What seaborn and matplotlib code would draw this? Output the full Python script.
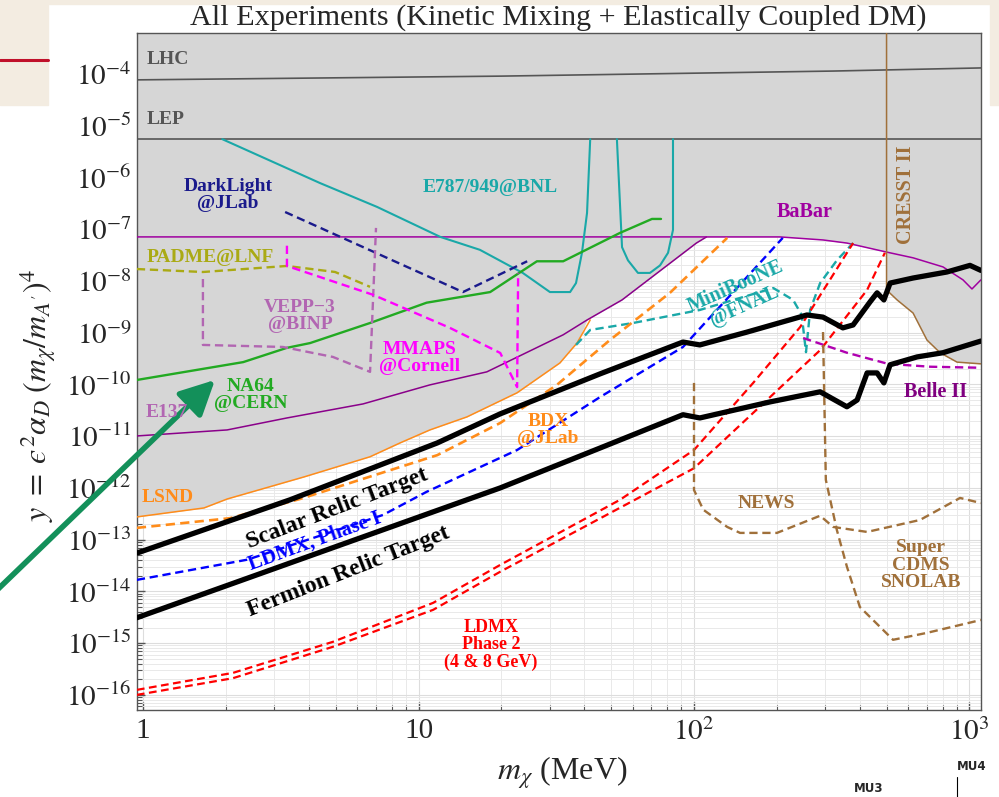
import numpy as np
import pandas as pd
import matplotlib
matplotlib.use("Agg")
import matplotlib.pyplot as plt
import seaborn as sns
from matplotlib.ticker import FixedLocator, LogLocator, NullFormatter, FixedFormatter
from matplotlib.patches import Rectangle, FancyArrowPatch
from matplotlib.lines import Line2D

# ---------------- data (x: m_chi in MeV, y: yield parameter) ----------------
lhc_x = [0.95, 20, 320, 1100]
lhc_y = [7.7e-5, 9.1e-5, 1.14e-4, 1.31e-4]
lep_x = [0.95, 1100]
lep_y = [5.5e-6, 5.5e-6]

babar_x = [0.95, 205, 294, 359, 502, 624, 801, 947, 1021, 1100]
babar_y = [7.1e-8, 7.1e-8, 6.2e-8, 5.4e-8, 3.6e-8, 2.8e-8, 1.87e-8, 1.05e-8, 7.0e-9, 1.05e-8]

e137_x = [0.95, 2.02, 3.33, 6.29, 11.0, 17.7, 33.5, 40.9, 54.8, 102, 111]
e137_y = [1.01e-11, 1.32e-11, 2.25e-11, 4.2e-11, 9.8e-11, 1.75e-10, 9.1e-10, 1.76e-9, 4.3e-9, 5.4e-8, 7.1e-8]

lsnd_x = [0.95, 1.665, 2.02, 3.84, 6.67, 8.57, 11.0, 15.0, 22.8, 32.6, 37.6, 42.0]
lsnd_y = [2.75e-13, 4.1e-13, 6.1e-13, 1.63e-12, 4.0e-12, 7.4e-12, 1.32e-11, 2.36e-11, 6.9e-11, 2.6e-10, 6.3e-10, 1.76e-9]

cresst_x = [500, 500, 546, 624, 701, 782, 901, 1100]
cresst_y = [1e-3, 6.7e-9, 4.3e-9, 2.4e-9, 7.2e-10, 4.1e-10, 2.7e-10, 2.5e-10]

e787_a_x = [1.94, 4.39, 7.07, 12.0, 16.7, 23.9, 30.0, 35.5, 37.3, 39.2, 40.9, 42.0]
e787_a_y = [5.5e-6, 7.8e-7, 2.7e-7, 7.1e-8, 4.0e-8, 1.43e-8, 6.1e-9, 6.1e-9, 9.1e-9, 3.5e-8, 2.06e-7, 5.5e-6]
e787_b_x = [52.5, 54.8, 57.6, 62.6, 69.2, 75.3, 80.5, 83.9, 83.9]
e787_b_y = [5.5e-6, 4.5e-8, 2.5e-8, 1.43e-8, 1.43e-8, 2.0e-8, 3.5e-8, 9.7e-8, 5.5e-6]

na64_x = [0.95, 2.31, 3.33, 4.04, 6.67, 10.7, 18.2, 26.9, 33.5, 53.9, 70.4, 75.9]
na64_y = [1.22e-10, 2.7e-10, 5.1e-10, 6.3e-10, 1.54e-9, 3.8e-9, 6.1e-9, 2.4e-8, 2.4e-8, 8.5e-8, 1.58e-7, 1.58e-7]

darklight_x = [3.28, 14.5, 24.8]
darklight_y = [2.15e-7, 6.1e-9, 2.4e-8]

padme_x = [0.95, 1.65, 3.33, 4.98, 6.67]
padme_y = [1.7e-8, 1.49e-8, 1.95e-8, 1.49e-8, 7.7e-9]

vepp_x = [1.65, 1.65, 3.22, 4.89, 6.67, 7.01]
vepp_y = [1.09e-8, 5.8e-10, 5.3e-10, 3.4e-10, 1.75e-10, 1.06e-7]

mmaps_x = [3.33, 3.33, 6.84, 13.0, 19.8, 22.8, 23.0]
mmaps_y = [4.8e-8, 1.95e-8, 5.4e-9, 1.24e-9, 4.06e-10, 8.9e-11, 1.43e-8]

scalar_x = [0.95, 3.42, 11.7, 19.8, 45.6, 91.2, 105, 156, 257, 294, 347, 378, 435,
            462, 489, 515, 624, 828, 1004, 1100]
scalar_y = [5.5e-14, 5.9e-13, 7.4e-12, 2.7e-11, 1.6e-10, 6.6e-10, 5.8e-10, 1.03e-9, 2.2e-9,
            2.0e-9, 1.24e-9, 1.41e-9, 3.9e-9, 5.9e-9, 4.3e-9, 9.1e-9, 1.14e-8, 1.49e-8, 2.0e-8, 1.6e-8]

fermion_x = [0.95, 15.0, 19.8, 45.6, 91.2, 105, 189, 287, 359, 391, 425, 462, 489, 515, 645, 801, 1100]
fermion_y = [3.1e-15, 5.9e-13, 1.0e-12, 5.9e-12, 2.6e-11, 2.25e-11, 4.6e-11, 7.2e-11, 3.7e-11,
             5.0e-11, 1.67e-10, 1.67e-10, 1.07e-10, 2.4e-10, 3.4e-10, 4.1e-10, 6.9e-10]

ldmx1_x = [0.95, 2.39, 7.43, 10.7, 22.8, 45.6, 91.2, 210]
ldmx1_y = [1.67e-14, 4.1e-14, 3.0e-13, 8.4e-13, 5.4e-12, 5.7e-11, 5.3e-10, 6.8e-8]

bdx_x = [0.95, 2.07, 3.71, 11.7, 19.8, 31.8, 49.5, 81.8, 132]
bdx_y = [1.69e-13, 2.6e-13, 6.1e-13, 4.3e-12, 1.8e-11, 9.8e-11, 7.2e-10, 5.9e-9, 6.8e-8]

miniboone_x = [37.3, 42.0, 60.1, 105, 194, 229, 246, 255, 264, 287, 330, 378]
miniboone_y = [5.8e-10, 1.13e-9, 1.54e-9, 2.75e-9, 7.3e-9, 4.3e-9, 2.2e-9, 4.2e-10, 2.75e-9,
               9.1e-9, 2.5e-8, 5.4e-8]

ldmx2a_x = [0.95, 2.12, 4.89, 11.3, 19.8, 53.9, 100, 164, 243, 378]
ldmx2a_y = [1.25e-16, 2.66e-16, 1.06e-15, 6.0e-15, 3.25e-14, 5.9e-13, 5.4e-12, 1.07e-10, 1.29e-9, 5.4e-8]
ldmx2b_x = [0.95, 2.12, 4.89, 11.3, 19.8, 100, 184, 287, 425, 493]
ldmx2b_y = [1.0e-16, 2.1e-16, 8.5e-16, 4.4e-15, 2.4e-14, 2.4e-12, 5.0e-11, 4.6e-10, 6.7e-9, 3.5e-8]

belle_x = [249, 359, 506, 719, 1100]
belle_y = [7.9e-10, 4.1e-10, 2.5e-10, 2.2e-10, 2.1e-10]

news_x = [100, 100, 108, 132, 147, 200, 287, 320, 425, 661, 924, 1100]
news_y = [1.07e-10, 9.1e-13, 3.8e-13, 1.76e-13, 1.35e-13, 1.35e-13, 2.9e-13, 1.76e-13,
          1.41e-13, 2.4e-13, 6.4e-13, 5.1e-13]

cdms_x = [294, 301, 330, 359, 400, 528, 701, 1100]
cdms_y = [1.03e-9, 1.43e-12, 1.54e-13, 3.0e-14, 5.0e-15, 1.16e-15, 1.58e-15, 2.8e-15]

x_ticks = [1, 10, 100, 1000]
x_ticklabels = ['1', '10', r'$10^2$', r'$10^3$']
y_exponents = list(range(-16, -3))

# ---------------- style ----------------
sns.set_style("white")
plt.rcParams['font.family'] = ['Liberation Serif', 'DejaVu Serif']
plt.rcParams['mathtext.fontset'] = 'stix'

W, H = 999, 797
fig = plt.figure(figsize=(W / 100, H / 100), dpi=100)
fig.patch.set_facecolor('white')


def P(px, py):
    return (px / W, 1 - py / H)


# slide background fragments
beige = '#f3ece1'
for (x0, y0, w, h) in [(0, 0, 48, 105), (0, 0, W, 4), (990, 0, 9, 105)]:
    fig.patches.append(Rectangle((x0 / W, 1 - (y0 + h) / H), w / W, h / H,
                                 transform=fig.transFigure, color=beige, zorder=0))
fig.add_artist(Line2D([0, 48 / W], [1 - 60 / H, 1 - 60 / H], color='#c0102a', lw=2.2,
                      transform=fig.transFigure))

ax = fig.add_axes([137 / W, 1 - 710 / H, (981 - 137) / W, (710 - 33) / H])
ax.set_xscale('log')
ax.set_yscale('log')
ax.set_xlim(0.951, 1101)
ax.set_ylim(5.1e-17, 6.2e-4)


def draw(x, y, color, lw, ls='-', z=3):
    df = pd.DataFrame({'x': x, 'y': y})
    sns.lineplot(data=df, x='x', y='y', sort=False, estimator=None, color=color,
                 lw=lw, linestyle=ls, ax=ax, zorder=z)


# grey excluded region (union of existing constraints)
lx, ly = np.array(lsnd_x), np.array(lsnd_y)
ex, ey = np.array(e137_x), np.array(e137_y)
bx, by = np.array(babar_x), np.array(babar_y)
m1 = lx < 40
m2 = ex >= 40
m3 = (bx > 111) & (bx < 500)
b500 = 10 ** np.interp(np.log10(500), np.log10(bx), np.log10(by))
gx = np.concatenate([lx[m1], ex[m2], bx[m3], [500], cresst_x[1:]])
gy = np.concatenate([ly[m1], ey[m2], by[m3], [b500], cresst_y[1:]])
ax.fill_between(gx, gy, 1e-2, color='#d6d6d6', zorder=1, lw=0)

dash = (0, (3.5, 2.0))
draw(lhc_x, lhc_y, '#555555', 1.2)
draw(lep_x, lep_y, '#555555', 1.2)
draw(lsnd_x, lsnd_y, '#ff8c1a', 1.1)
draw(e137_x, e137_y, '#8a008a', 1.1)
draw(babar_x, babar_y, '#a000a0', 1.1)
draw(cresst_x, cresst_y, '#a0703a', 1.1)
draw(e787_a_x, e787_a_y, '#1aa8a8', 1.5)
draw(e787_b_x, e787_b_y, '#1aa8a8', 1.5)
draw(na64_x, na64_y, '#22aa22', 1.7)
draw(darklight_x, darklight_y, '#1a1a8c', 1.7, dash)
draw(padme_x, padme_y, '#aaaa14', 1.7, dash)
draw(vepp_x, vepp_y, '#b266b2', 1.7, dash)
draw(mmaps_x, mmaps_y, '#ff00ff', 1.7, dash)
draw(miniboone_x, miniboone_y, '#1aa8a8', 1.7, dash)
draw(bdx_x, bdx_y, '#ff8c1a', 1.9, dash)
draw(ldmx1_x, ldmx1_y, '#0000ff', 1.7, dash)
draw(ldmx2a_x, ldmx2a_y, '#ff0000', 1.6, dash)
draw(ldmx2b_x, ldmx2b_y, '#ff0000', 1.6, dash)
draw(belle_x, belle_y, '#b000b0', 1.7, dash)
draw(news_x, news_y, '#a0703a', 1.7, dash)
draw(cdms_x, cdms_y, '#a0703a', 1.7, dash)
draw(scalar_x, scalar_y, 'black', 3.8, '-', 5)
draw(fermion_x, fermion_y, 'black', 3.8, '-', 5)

# axes cosmetics
ax.set_xlabel('')
ax.set_ylabel('')
ax.set_axisbelow(True)
ax.xaxis.set_major_locator(FixedLocator(x_ticks))
ax.xaxis.set_major_formatter(FixedFormatter(x_ticklabels))
ax.xaxis.set_minor_locator(LogLocator(base=10, subs=np.arange(2, 10), numticks=100))
ax.xaxis.set_minor_formatter(NullFormatter())
ax.yaxis.set_major_locator(FixedLocator([10.0 ** k for k in y_exponents]))
ax.yaxis.set_major_formatter(FixedFormatter([rf'$10^{{{k}}}$' for k in y_exponents]))
ax.yaxis.set_minor_locator(LogLocator(base=10, subs=np.arange(2, 10), numticks=100))
ax.yaxis.set_minor_formatter(NullFormatter())
ax.grid(which='major', color='#dddddd', lw=0.8)
ax.grid(which='minor', color='#e9e9e9', lw=0.7)
ax.tick_params(which='both', direction='in', color='#555555', left=True, bottom=True,
               top=False, right=False)
ax.tick_params(which='major', length=6, width=1, labelsize=21, pad=6)
ax.tick_params(which='minor', length=3.5, width=0.8)
ax.tick_params(axis='y', pad=4)
for s in ax.spines.values():
    s.set_color('#555555')
    s.set_linewidth(1.0)

# title and axis labels
fig.text(*P(558, 18), 'All Experiments (Kinetic Mixing + Elastically Coupled DM)',
         ha='center', va='center', fontsize=21.7)
fig.text(*P(38, 395), '$y\\;=\\;\u03f5^2\\alpha_D\\;(m_\\chi/m_{A^{\\prime}})^4$',
         ha='center', va='center', rotation=90, fontsize=23)
fig.text(*P(562, 773), r'$m_\chi$ (MeV)', ha='center', va='center', fontsize=23)

labels = [
    ('LHC', 168, 60, '#555555', 14, 0),
    ('LEP', 166, 120, '#555555', 14, 0),
    ('DarkLight\n@JLab', 228, 195, '#1a1a8c', 14, 0),
    ('E787/949@BNL', 490, 188, '#1aa8a8', 14, 0),
    ('BaBar', 805, 212, '#a000a0', 14.5, 0),
    ('CRESST II', 906, 195, '#a0703a', 14.5, 90),
    ('PADME@LNF', 210, 257, '#aaaa14', 14, 0),
    ('VEPP\u22123\n@BINP', 300, 316, '#b266b2', 14, 0),
    ('MMAPS\n@Cornell', 420, 358, '#ff00ff', 14, 0),
    ('NA64\n@CERN', 251, 395, '#22aa22', 14, 0),
    ('E137', 167, 412, '#b266b2', 14, 0),
    ('LSND', 168, 497, '#ff8c1a', 14, 0),
    ('BDX\n@JLab', 548, 430, '#ff8c1a', 14, 0),
    ('MiniBooNE\n@FNAL', 740, 296, '#1aa8a8', 14.5, 24),
    ('Belle II', 936, 392, '#800080', 14.5, 0),
    ('NEWS', 766, 503, '#a0703a', 14, 0),
    ('Super\nCDMS\nSNOLAB', 921, 565, '#a0703a', 14, 0),
    ('LDMX\nPhase 2\n(4 & 8 GeV)', 491, 645, '#ff0000', 13, 0),
    ('Scalar Relic Target', 337, 509, 'black', 17, 21),
    ('LDMX, Phase I', 315, 541, '#0000ff', 15, 20),
    ('Fermion Relic Target', 348, 572, 'black', 17, 21.5),
]
for txt, px, py, col, fs, rot in labels:
    fig.text(*P(px, py), txt, ha='center', va='center', color=col, fontsize=fs,
             fontweight='bold', rotation=rot, rotation_mode='anchor', linespacing=1.05,
             zorder=6)

# green arrow from the slide
arrow = FancyArrowPatch(P(-5, 592), P(217, 378), transform=fig.transFigure,
                        arrowstyle='-|>,head_length=0.7,head_width=0.35',
                        mutation_scale=30, color='#13905a', lw=4)
fig.add_artist(arrow)

# slide footer marks
fig.text(*P(869, 789), 'MU3', ha='center', va='center', fontsize=8.5, fontweight='bold',
         family='DejaVu Sans')
fig.text(*P(972, 767), 'MU4', ha='center', va='center', fontsize=8.5, fontweight='bold',
         family='DejaVu Sans')
fig.add_artist(Line2D([957 / W, 957 / W], [1 - 777 / H, 0], color='black', lw=0.8,
                      transform=fig.transFigure))

fig.savefig('out.png', dpi=100)
